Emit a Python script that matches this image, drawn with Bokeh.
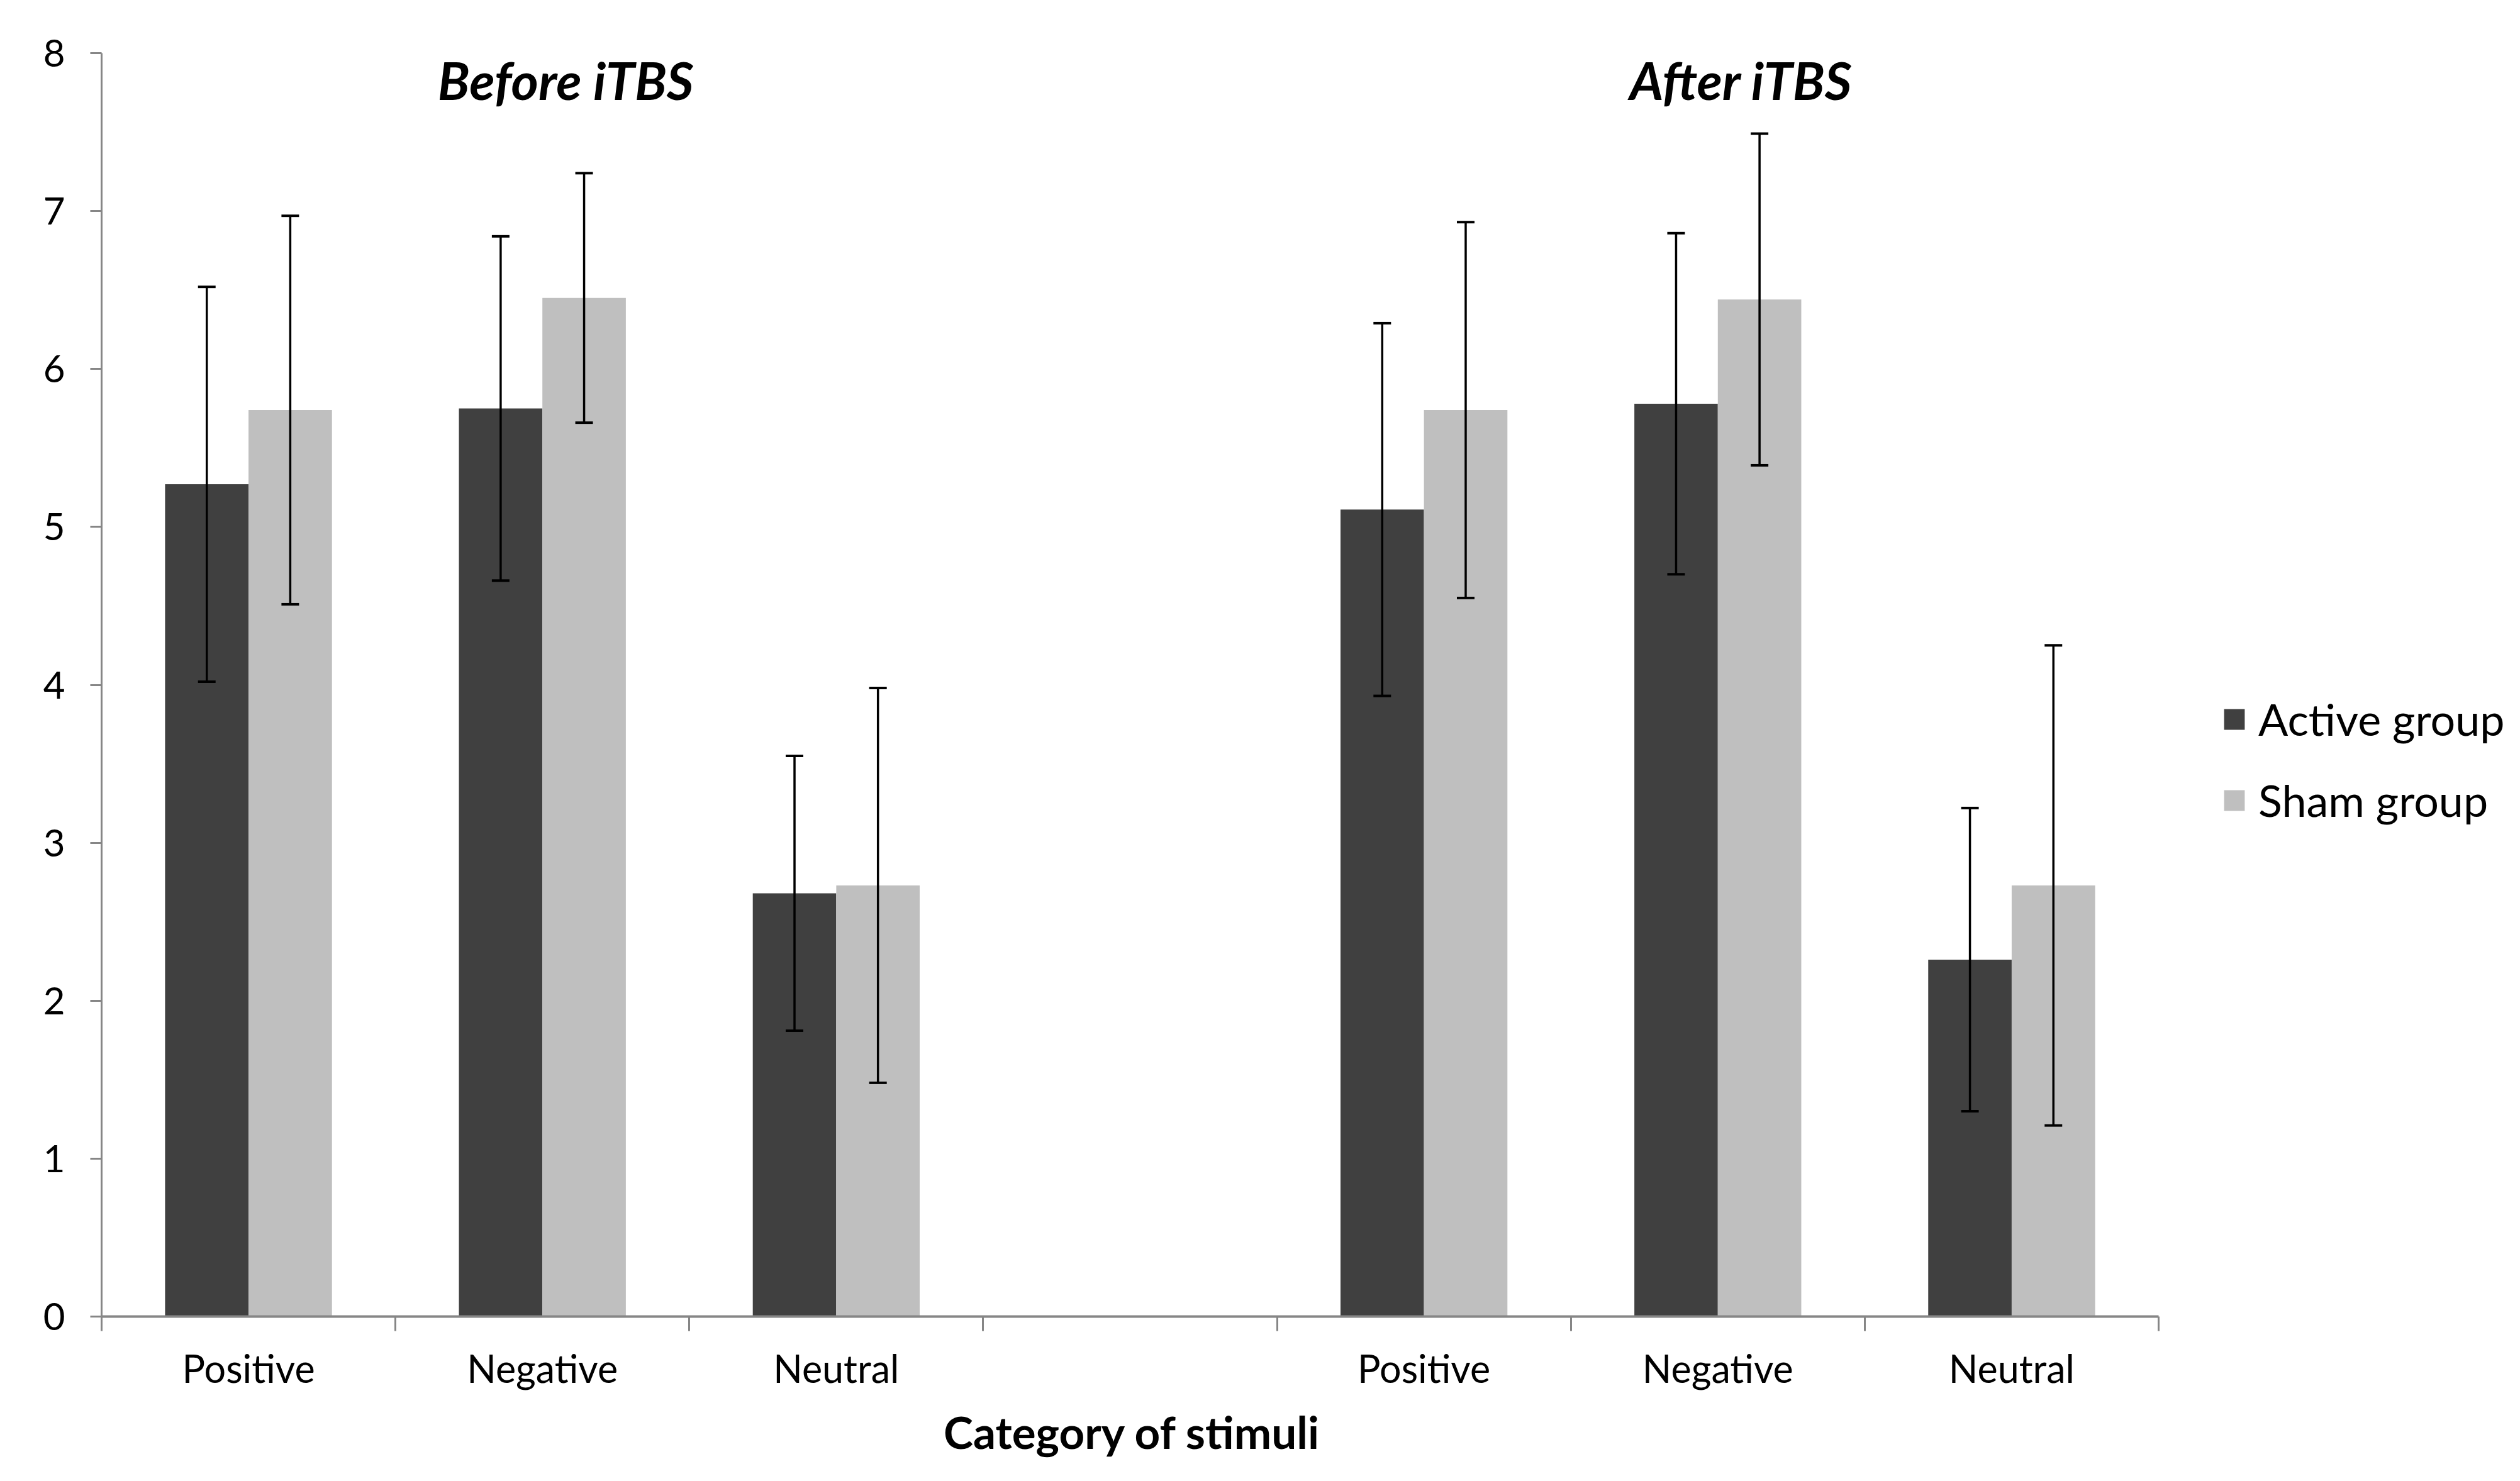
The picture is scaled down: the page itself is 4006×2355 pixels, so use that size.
from bokeh.plotting import figure
from bokeh.models import (ColumnDataSource, FixedTicker, Whisker, TeeHead,
                          Legend, LegendItem, Range1d, Title)
from bokeh.transform import dodge
from bokeh.core.properties import value
from bokeh.embed import file_html
from bokeh.resources import INLINE

# ---- data ----
categories = ["Positive", "Negative", "Neutral"]
sessions = ["Before iTBS", "After iTBS"]
active_mean = [5.27, 5.75, 2.68, 5.11, 5.78, 2.26]
active_sd = [1.25, 1.09, 0.87, 1.18, 1.08, 0.96]
sham_mean = [5.74, 6.45, 2.73, 5.74, 6.44, 2.73]
sham_sd = [1.23, 0.79, 1.25, 1.19, 1.05, 1.52]
y_ticks = [0, 1, 2, 3, 4, 5, 6, 7, 8]
x_title = "Category of stimuli"
series_names = ["Active group", "Sham group"]

# ---- layout of slots: 3 categories per session, one empty slot between ----
n_cat = len(categories)
slot_x = [g * (n_cat + 1) + i + 0.5 for g in range(len(sessions)) for i in range(n_cat)]
n_slots = len(sessions) * (n_cat + 1) - 1
labels = [categories[i] for g in range(len(sessions)) for i in range(n_cat)]

src = ColumnDataSource(dict(
    x=slot_x,
    active=active_mean,
    sham=sham_mean,
    a_up=[m + s for m, s in zip(active_mean, active_sd)],
    a_lo=[m - s for m, s in zip(active_mean, active_sd)],
    s_up=[m + s for m, s in zip(sham_mean, sham_sd)],
    s_lo=[m - s for m, s in zip(sham_mean, sham_sd)],
))

FONT = "Lato"
AXIS_GRAY = "#868686"
DARK = "#404040"
LIGHT = "#BFBFBF"

W, H = 3990, 2339
LEFT, TOP, RIGHT = 161, 84, 0
AXIS_W = 3270          # pixel length of the drawn x axis
FRAME_H = 2009
frame_w = W - LEFT - RIGHT
x_end = n_slots * frame_w / AXIS_W

p = figure(width=W, height=H, output_backend="svg", toolbar_location=None,
           x_range=Range1d(0, x_end), y_range=Range1d(0, 8),
           min_border_left=LEFT, min_border_right=RIGHT, min_border_top=TOP,
           min_border_bottom=H - TOP - FRAME_H)
p.outline_line_color = None
p.xgrid.visible = False
p.ygrid.visible = False
p.background_fill_color = "white"

bw = 0.284
r_active = p.vbar(x=dodge("x", -bw / 2, range=p.x_range), top="active", width=bw,
                  bottom=0, source=src, fill_color=DARK, line_color=None)
r_sham = p.vbar(x=dodge("x", bw / 2, range=p.x_range), top="sham", width=bw,
                bottom=0, source=src, fill_color=LIGHT, line_color=None)

for off, up, lo in [(-bw / 2, "a_up", "a_lo"), (bw / 2, "s_up", "s_lo")]:
    w = Whisker(source=src, base=dodge("x", off, range=p.x_range), upper=up, lower=lo,
                dimension="height", line_color="black", line_width=3.5,
                upper_head=TeeHead(size=28, line_width=4, line_color="black"),
                lower_head=TeeHead(size=28, line_width=4, line_color="black"))
    w.level = "overlay"
    p.add_layout(w)

# session titles
title_src = ColumnDataSource(dict(
    x=[g * (n_cat + 1) + (n_cat / 2) for g in range(len(sessions))],
    y=[7.83] * len(sessions),
    t=sessions,
))
p.text(x="x", y="y", text="t", source=title_src, text_font=value(FONT),
       text_font_size="83px", text_font_style="bold italic", text_align="center",
       text_baseline="middle", x_offset=37, text_color="black")

# x axis
xa = p.xaxis[0]
xa.bounds = (0, n_slots)
xa.ticker = FixedTicker(ticks=slot_x, minor_ticks=list(range(n_slots + 1)))
xa.major_label_overrides = {x: l for x, l in zip(slot_x, labels)}
xa.major_tick_line_color = None
xa.minor_tick_in = 0
xa.minor_tick_out = 23
xa.minor_tick_line_color = AXIS_GRAY
xa.minor_tick_line_width = 3
xa.axis_line_color = AXIS_GRAY
xa.axis_line_width = 4
xa.major_label_text_font = FONT
xa.major_label_text_font_size = "61px"
xa.major_label_text_color = "black"
xa.major_label_standoff = 22

# axis title, centred under the drawn axis
AX_LABEL_W = 593
p.add_layout(Title(text=x_title, align="left", vertical_align="top",
                   offset=AXIS_W / 2 - AX_LABEL_W / 2, standoff=38,
                   text_font=FONT, text_font_size="71px", text_font_style="bold",
                   text_color="black"), "below")

# y axis
ya = p.yaxis[0]
ya.ticker = FixedTicker(ticks=y_ticks)
ya.minor_tick_line_color = None
ya.major_tick_in = 0
ya.major_tick_out = 18
ya.major_tick_line_color = AXIS_GRAY
ya.major_tick_line_width = 3
ya.axis_line_color = AXIS_GRAY
ya.axis_line_width = 3
ya.major_label_text_font = FONT
ya.major_label_text_font_size = "60px"
ya.major_label_text_color = "black"
ya.major_label_standoff = 40

legend = Legend(items=[LegendItem(label=series_names[0], renderers=[r_active]),
                       LegendItem(label=series_names[1], renderers=[r_sham])],
                location=(3370, 779), padding=0, margin=0, border_line_color=None,
                background_fill_alpha=0, glyph_width=41, glyph_height=41,
                label_standoff=18, spacing=45, label_text_font=FONT,
                label_text_font_size="70px", label_text_color="black")
p.add_layout(legend, "center")

open("out.html", "w").write(file_html(p, INLINE))
